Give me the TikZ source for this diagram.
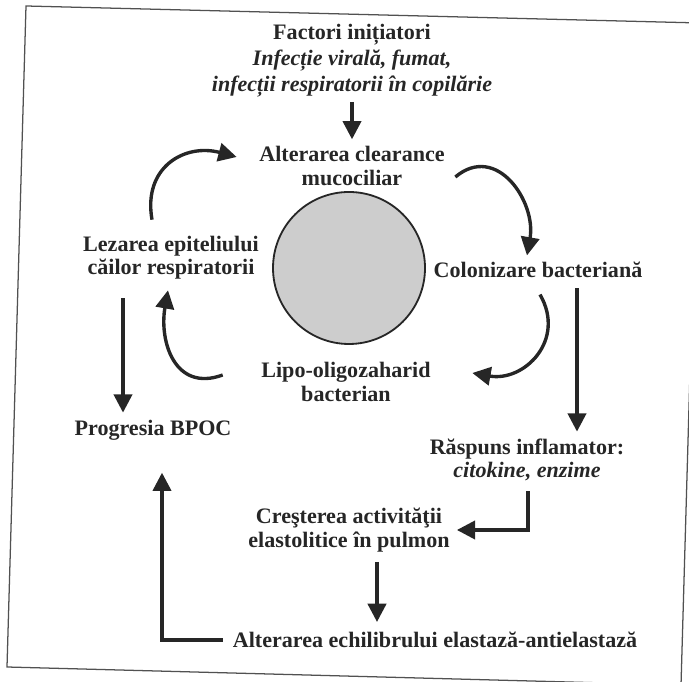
\documentclass[tikz,border=0pt]{standalone}
\usepackage{fontspec}
\setmainfont{Liberation Serif}
\usetikzlibrary{arrows.meta,positioning,calc}

\definecolor{ink}{HTML}{262626}
\definecolor{disc}{HTML}{CDCDCD}

\begin{document}
\begin{tikzpicture}[
    x=0.025cm, y=0.025cm,
    txt/.style={align=center,text=ink,inner sep=1pt,
        font=\fontsize{15.7}{16.5}\selectfont\bfseries},
    flow/.style={-{Triangle[width=13pt,length=13pt]},line width=2.4pt,draw=ink},
]
\useasboundingbox (0,0) rectangle (689,682);

% scanned frame, slightly tilted
\draw[line width=0.9pt,draw=ink!80] (26,676) -- (700,659) -- (681,-3) -- (7,15) -- cycle;

% =====================================================
% Cycle around the disc
% =====================================================

\node[txt] (factori) at (352,621)
{
Factori inițiatori\\[2pt]
\textit{Infecție virală, fumat,}\\[2pt]
\textit{infecții respiratorii în copilărie}
};

\node[txt] (clearance) at (352,516) {Alterarea clearance\\ mucociliar};

\node[circle,draw=ink,line width=1.3pt,fill=disc,minimum size=152*0.025cm] (disc) at (349,414) {};

\node[txt] (colonizare) at (538,412) {Colonizare bacteriană};
\node[txt] (lipo) at (346,300) {Lipo-oligozaharid\\ bacterian};
\node[txt] (lezarea) at (171,424) {Lezarea epiteliului\\ căilor respiratorii};

\draw[flow]
    ($(lezarea.north)+(-19,15)$)
    to[out=100,in=165,looseness=1.3]
    ($(clearance.west)+(-21,9)$);

\draw[flow]
    ($(clearance.east)+(9,-11)$)
    to[out=40,in=80,looseness=1.3]
    ($(colonizare.north)+(-11,5)$);

\draw[flow]
    ($(colonizare.south)+(2,-15)$)
    to[out=-60,in=-10,looseness=1.3]
    ($(lipo.east)+(40,9)$);

\draw[flow]
    ($(lipo.west)+(-37,7)$)
    to[out=200,in=-100,looseness=1.3]
    ($(lezarea.south)+(-3,-9)$);

\draw[flow,shorten <=2pt,shorten >=4pt] (factori) -- (clearance);

% =====================================================
% Way out of the cycle
% =====================================================

\node[txt] (progresia) at (153,252) {Progresia BPOC};
\node[txt] (raspuns) at (527,222) {Răspuns inflamator:\\ \textit{citokine, enzime}};
\node[txt] (crestere) at (349,152) {Creşterea activităţii\\ elastolitice în pulmon};
\node[txt] (echilibru) at (435,42) {Alterarea echilibrului elastază-antielastază};

\coordinate (colL) at (123,0);
\coordinate (colR) at (577,0);
\coordinate (colE) at (528,0);
\coordinate (colD) at (377,0);
\coordinate (colB) at (162,0);

\draw[flow,shorten <=12pt,shorten >=4pt]
    (lezarea.south -| colL) -- (progresia.north -| colL);

\draw[flow,shorten <=6pt,shorten >=4pt]
    (colonizare.south -| colR) -- (raspuns.north -| colR);

\draw[flow,shorten <=6pt,shorten >=4pt]
    (raspuns.south -| colE) |- (crestere.east);

\draw[flow,shorten <=6pt,shorten >=6pt]
    (crestere.south -| colD) -- (echilibru.north -| colD);

\draw[flow,shorten <=6pt,shorten >=22pt]
    (echilibru.west) -| (progresia.south -| colB);

\end{tikzpicture}
\end{document}
